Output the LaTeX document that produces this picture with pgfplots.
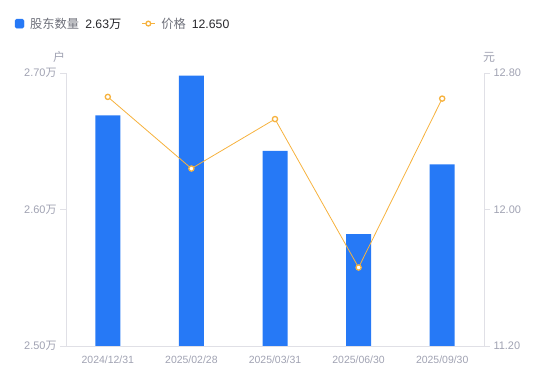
\documentclass[border=0pt]{standalone}
\usepackage{fontspec}
\setmainfont{Liberation Sans}
\newfontfamily\cjk{Noto Sans CJK SC}
\usepackage{pgfplots}
\pgfplotsset{compat=1.18}
\definecolor{barblue}{RGB}{38,121,246}
\definecolor{lineorange}{RGB}{246,178,62}
\definecolor{axisgray}{RGB}{224,224,230}
\definecolor{ticktext}{RGB}{160,162,178}
\definecolor{legtext}{RGB}{110,112,122}
\definecolor{valtext}{RGB}{40,40,44}
\begin{document}
\begin{tikzpicture}
\path[use as bounding box] (0,0) rectangle (550bp,381bp);
\begin{axis}[
  at={(66bp,35bp)}, anchor=south west,
  scale only axis, width=418bp, height=273bp,
  xmin=-0.5, xmax=4.5, ymin=2.5, ymax=2.7,
  axis x line*=bottom, axis y line*=left,
  axis line style={axisgray, line width=0.8bp, -},
  xtick={0,1,2,3,4},
  xticklabels={2024/12/31,2025/02/28,2025/03/31,2025/06/30,2025/09/30},
  x tick label style={font=\fontsize{10.5}{12}\selectfont, text=ticktext},
  xtick style={draw=none},
  ytick={2.5,2.6,2.7},
  yticklabels={2.50{\cjk 万},2.60{\cjk 万},2.70{\cjk 万}},
  y tick label style={font=\fontsize{11}{12}\selectfont, text=ticktext},
  ytick style={axisgray, line width=0.8bp},
  tick align=outside, major tick length=6bp,
  clip=true,
]
\addplot[ybar, bar width=25bp, fill=barblue, draw=none] coordinates {(0,2.669)(1,2.698)(2,2.643)(3,2.582)(4,2.633)};
\end{axis}
\begin{axis}[
  at={(66bp,35bp)}, anchor=south west,
  scale only axis, width=418bp, height=273bp,
  xmin=-0.5, xmax=4.5, ymin=11.2, ymax=12.8,
  axis x line=none, axis y line*=right,
  axis line style={axisgray, line width=0.8bp, -},
  ytick={11.2,12,12.8},
  yticklabels={11.20,12.00,12.80},
  y tick label style={font=\fontsize{11}{12}\selectfont, text=ticktext},
  ytick style={axisgray, line width=0.8bp},
  tick align=outside, major tick length=6bp,
  clip=false,
  legend columns=2,
  legend style={draw=none, fill=none, at={(-0.13,1.218)}, anchor=north west,
    font=\fontsize{12.3}{14}\selectfont, text=legtext,
    /tikz/every odd column/.append style={column sep=4bp},
    /tikz/every even column/.append style={column sep=18bp}},
]
\addlegendimage{legend image code/.code={\fill[barblue, rounded corners=1.5bp] (0bp,-4.5bp) rectangle (9bp,4.5bp);}}
\addlegendentry{{\cjk 股东数量}\hspace{6bp}{\color{valtext}2.63{\cjk 万}}}
\addplot[lineorange, line width=0.8bp, mark=*, mark size=2.6bp,
  mark options={fill=white, draw=lineorange, line width=1.3bp},
  legend image code/.code={\draw[lineorange, line width=1bp] (0bp,0bp)--(13bp,0bp); \draw[lineorange, line width=1.3bp, fill=white] (6.5bp,0bp) circle (2.4bp);}]
  coordinates {(0,12.66)(1,12.24)(2,12.53)(3,11.66)(4,12.65)};
\addlegendentry{{\cjk 价格}\hspace{6bp}{\color{valtext}12.650}}
\node[font=\cjk\fontsize{12}{12}\selectfont, text=ticktext] at ([xshift=-7bp,yshift=16bp]rel axis cs:0,1) {户};
\node[font=\cjk\fontsize{12}{12}\selectfont, text=ticktext] at ([xshift=5bp,yshift=16bp]rel axis cs:1,1) {元};
\end{axis}
\end{tikzpicture}
\end{document}
